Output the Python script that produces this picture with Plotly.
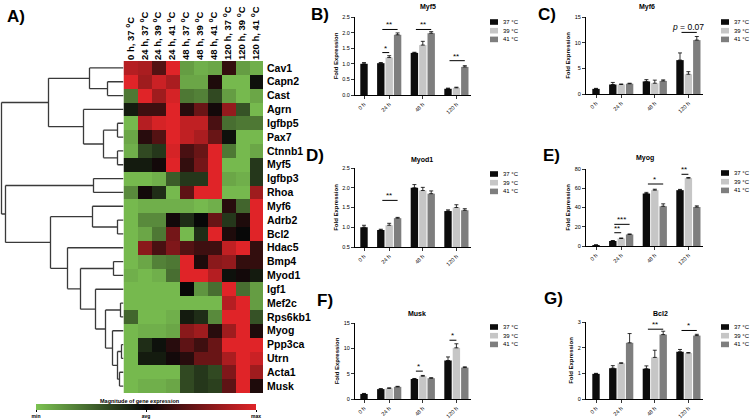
import plotly.graph_objects as go

W, H = 750, 419

# ---------------- heatmap data ----------------
genes = ["Cav1", "Capn2", "Cast", "Agrn", "Igfbp5", "Pax7", "Ctnnb1", "Myf5", "Igfbp3", "Rhoa",
         "Myf6", "Adrb2", "Bcl2", "Hdac5", "Bmp4", "Myod1", "Igf1", "Mef2c", "Rps6kb1", "Myog",
         "Ppp3ca", "Utrn", "Acta1", "Musk"]
conditions = ["0 h, 37 <sup>o</sup>C", "24 h, 37 <sup>o</sup>C", "24 h, 39 <sup>o</sup>C", "24 h, 41 <sup>o</sup>C",
              "48 h, 37 <sup>o</sup>C", "48 h, 39 <sup>o</sup>C", "48 h, 41 <sup>o</sup>C",
              "120 h, 37 <sup>o</sup>C", "120 h, 39 <sup>o</sup>C", "120 h, 41 <sup>o</sup>C"]
expr = [
    [0.8, 0.75, 0.35, 1.0, -0.8, -0.9, -0.85, 0.2, -0.8, -0.9],        # Cav1
    [1.0, 0.7, 0.9, 0.75, -0.85, -0.85, 0.1, -0.95, -0.95, -0.05],     # Capn2
    [-0.6, 1.0, 0.7, 0.95, -0.6, -0.65, -0.35, -0.8, -0.95, -0.85],    # Cast
    [-0.1, 0.25, 0.25, 1.0, 0.15, 0.45, 0.05, 0.65, -0.4, -0.95],      # Agrn
    [-0.95, 0.8, 0.95, 1.0, 0.85, 0.85, 0.3, -0.55, -0.6, -0.6],       # Igfbp5
    [-0.85, 0.15, 0.35, 1.0, 0.85, 0.75, 0.45, -0.05, -0.95, -0.95],   # Pax7
    [-0.9, -0.35, -0.25, 0.95, 0.3, 0.45, 1.0, -0.6, -0.95, -0.85],    # Ctnnb1
    [-0.1, -0.1, 0.05, 1.0, 0.2, 0.5, 1.0, -0.95, -0.95, -0.25],       # Myf5
    [-0.95, -0.95, -0.9, -0.45, -0.25, -0.25, 1.0, -0.85, -0.9, -0.25],  # Igfbp3
    [-0.7, 0.05, -0.2, -0.95, 0.4, 1.0, 1.0, -0.95, -0.95, 0.7],       # Rhoa
    [-0.95, -0.9, -0.9, -0.9, -0.9, -0.95, -0.9, 0.15, -0.5, 1.0],     # Myf6
    [-0.95, -0.7, -0.7, 0.05, -0.2, 0.0, 0.45, -0.25, 0.1, 1.0],       # Adrb2
    [-0.95, -0.85, -0.6, 0.5, -0.95, -0.2, 1.0, 0.1, 0.0, 1.0],        # Bcl2
    [-0.95, 0.6, 0.3, 0.55, 0.35, 0.25, 0.25, 0.85, 1.0, 0.2],         # Hdac5
    [-0.95, -0.85, -0.65, -0.6, 1.0, 0.1, 0.6, 0.65, 0.2, 0.2],        # Bmp4
    [-0.9, -0.95, -0.9, -0.55, 1.0, 1.0, 0.8, -0.05, 0.05, -0.1],      # Myod1
    [-0.95, -0.95, -0.95, -0.95, 0.0, -0.75, -0.55, 1.0, -0.55, -0.8],  # Igf1
    [-0.95, -0.95, -0.95, -0.95, -0.95, -0.95, -0.95, 0.8, 1.0, -0.8],  # Mef2c
    [-0.5, -0.95, -0.95, -0.9, -0.1, -0.2, -0.7, 1.0, 1.0, -0.4],      # Rps6kb1
    [-0.95, -0.9, -0.9, -0.85, 0.6, 0.7, 0.15, 0.7, 1.0, 0.1],         # Myog
    [-0.95, -0.2, -0.05, 0.15, 0.4, 0.25, 0.45, 1.0, 1.0, 1.0],        # Ppp3ca
    [-0.95, -0.1, -0.1, 0.05, 0.15, 0.45, 0.45, 0.75, 1.0, 0.9],       # Utrn
    [-0.95, -0.95, -0.95, -0.95, -0.35, -0.25, -0.35, 0.55, 1.0, 0.7],  # Acta1
    [-0.95, -0.9, -0.9, -0.85, -0.35, -0.25, -0.3, 0.4, 1.0, 0.1],     # Musk
]

# dendrogram merges: (child_a, child_b, height); int child = earlier merge index
merges = [
    ("Capn2", "Cast", 16),     # 0
    ("Cav1", 0, 34),           # 1
    ("Igfbp5", "Pax7", 6),     # 2
    ("Ctnnb1", "Myf5", 6),     # 3
    (2, 3, 20),                # 4
    ("Agrn", 4, 40),           # 5
    (1, 5, 75),                # 6
    ("Igfbp3", "Rhoa", 30),    # 7
    ("Adrb2", "Bcl2", 6),      # 8
    ("Myf6", 8, 31),           # 9
    ("Bmp4", "Myod1", 10),     # 10
    ("Mef2c", "Rps6kb1", 3),   # 11
    ("Ppp3ca", "Utrn", 2),     # 12
    ("Acta1", "Musk", 4),      # 13
    (12, 13, 6),               # 14
    ("Myog", 14, 11),          # 15
    (11, 15, 18),              # 16
    ("Igf1", 16, 28),          # 17
    (10, 17, 43),              # 18
    ("Hdac5", 18, 56),         # 19
    (9, 19, 73),               # 20
    (7, 20, 118),              # 21
    (6, 21, 122),              # 22
]

# ---------------- bar chart data ----------------
time_points = ["0 h", "24 h", "48 h", "120 h"]
temps = ["37 °C", "39 °C", "41 °C"]

myf5_mean = [[1.0, 1.02, 1.35, 0.2], [None, 1.2, 1.6, 0.23], [None, 1.93, 1.98, 0.9]]
myf5_err = [[0.04, 0.02, 0.02, 0.02], [None, 0.06, 0.12, 0.02], [None, 0.06, 0.05, 0.04]]
myf6_mean = [[1.0, 1.85, 2.45, 6.6], [None, 1.85, 2.1, 3.85], [None, 2.0, 2.55, 10.5]]
myf6_err = [[0.1, 0.4, 0.35, 1.4], [None, 0.1, 0.6, 0.5], [None, 0.1, 0.2, 0.7]]
myod1_mean = [[1.0, 0.93, 2.0, 1.41], [None, 1.05, 1.93, 1.5], [None, 1.23, 1.85, 1.43]]
myod1_err = [[0.05, 0.02, 0.08, 0.03], [None, 0.05, 0.08, 0.07], [None, 0.02, 0.07, 0.04]]
myog_mean = [[1.0, 5.2, 54.5, 58.0], [None, 7.8, 58.0, 70.5], [None, 12.0, 41.3, 40.5]]
myog_err = [[0.2, 0.5, 1.2, 0.8], [None, 0.5, 1.0, 0.6], [None, 0.5, 2.5, 1.2]]
musk_mean = [[1.0, 1.95, 3.95, 7.6], [None, 2.1, 4.5, 10.1], [None, 2.4, 4.1, 6.2]]
musk_err = [[0.1, 0.1, 0.1, 0.7], [None, 0.1, 0.15, 0.8], [None, 0.1, 0.1, 0.15]]
bcl2_mean = [[0.98, 1.2, 1.18, 1.84], [None, 1.39, 1.62, 1.79], [None, 2.19, 2.51, 2.47]]
bcl2_err = [[0.02, 0.1, 0.11, 0.09], [None, 0.02, 0.28, 0.02], [None, 0.36, 0.13, 0.05]]

# significance: (time index, series a, series b, y, label)
myf5_sig = [(1, 0, 1, 1.36, "*"), (1, 0, 2, 2.1, "**"), (2, 0, 2, 2.1, "**"), (3, 0, 2, 1.1, "**")]
myf6_sig = [(3, 0, 2, 12.0, "<i>p</i> = 0.07")]
myod1_sig = [(1, 0, 2, 1.68, "**")]
myog_sig = [(1, 0, 1, 13.8, "**"), (1, 0, 2, 22.5, "***"), (2, 0, 2, 64.4, "*"),
            (3, 0, 1, 74.5, "**"), (3, 0, 2, 84.9, "**")]
musk_sig = [(2, 0, 1, 5.5, "*"), (3, 0, 1, 11.6, "*")]
bcl2_sig = [(2, 0, 2, 2.72, "**"), (3, 0, 2, 2.67, "*")]

# ---------------- styling ----------------
FONT = "Liberation Sans"
bar_colors = ["#0c0c0c", "#c6c6c6", "#7e7e7e"]
colorscale = [[0.0, "rgb(124,194,82)"], [0.5, "rgb(8,8,8)"], [1.0, "rgb(224,36,40)"]]


def xd(a, b):
    return [a / W, b / W]


def yd(top, bottom):
    return [1 - bottom / H, 1 - top / H]


fig = go.Figure()
annotations = []
shapes = []

# heatmap
fig.add_trace(go.Heatmap(
    z=expr, x=list(range(len(conditions))), y=list(range(len(genes))),
    colorscale=colorscale, zmin=-1, zmax=1, xaxis="x", yaxis="y",
    showscale=True, xgap=0, ygap=0, hoverinfo="skip",
    colorbar=dict(orientation="h", x=146 / W, xanchor="center", y=0, yanchor="bottom",
                  len=220 / W, lenmode="fraction", thickness=6, thicknessmode="pixels",
                  xpad=0, ypad=0, outlinewidth=0,
                  tickvals=[-1, 0, 1], ticktext=["<b>min</b>", "<b>avg</b>", "<b>max</b>"],
                  ticks="outside", ticklen=2, tickcolor="black",
                  tickfont=dict(family=FONT, size=5, color="black")),
))
annotations.append(dict(x=140 / W, y=1 - 401 / H, xref="paper", yref="paper",
                        text="<b>Magnitude of gene expression</b>", showarrow=False,
                        xanchor="center", yanchor="middle", font=dict(family=FONT, size=5.5, color="black")))

# dendrogram
leaf_y = {g: i for i, g in enumerate(genes)}
node_pos = []
dx, dy = [], []
for a, b, h in merges:
    pts = []
    for c in (a, b):
        if isinstance(c, int):
            cy, ch = node_pos[c]
        else:
            cy, ch = leaf_y[c], 0
        pts.append((cy, ch))
        dx += [ch, h, None]
        dy += [cy, cy, None]
    dx += [h, h, None]
    dy += [pts[0][0], pts[1][0], None]
    node_pos.append(((pts[0][0] + pts[1][0]) / 2, h))
fig.add_trace(go.Scatter(x=dx, y=dy, mode="lines", xaxis="x2", yaxis="y",
                         line=dict(color="#3a3a3a", width=1.3), hoverinfo="skip", showlegend=False))

layout_axes = dict(
    xaxis=dict(domain=xd(123.5, 263), range=[-0.5, len(conditions) - 0.5], side="top", anchor="y",
               tickvals=list(range(len(conditions))), ticktext=["<b>%s</b>" % c for c in conditions],
               tickangle=-90, tickfont=dict(family=FONT, size=9.5, color="black"),
               showgrid=False, zeroline=False, showline=False, ticks=""),
    yaxis=dict(domain=yd(61, 393), range=[len(genes) - 0.5, -0.5], side="right", anchor="x",
               tickvals=list(range(len(genes))), ticktext=["<b>%s</b>" % g for g in genes],
               tickfont=dict(family=FONT, size=10.5, color="black"),
               showgrid=False, zeroline=False, showline=False, ticks="", ticklabelstandoff=3),
    xaxis2=dict(domain=xd(0, 123.5), range=[123.5, 0], anchor="y", visible=False),
)

# bar panels
panels = [
    ("Myf5", myf5_mean, myf5_err, myf5_sig, [0, 2.5], [0, 0.5, 1.0, 1.5, 2.0, 2.5], ".1f",
     355, 471, 17, 95, 364, "B)", (320, 15), (428, 7), (490, 22)),
    ("Myf6", myf6_mean, myf6_err, myf6_sig, [0, 15], [0, 5, 10, 15], "d",
     586, 703, 17, 94, 596, "C)", (547, 15), (647, 7), (721, 22)),
    ("Myod1", myod1_mean, myod1_err, myod1_sig, [0.5, 2.5], [0.5, 1.0, 1.5, 2.0, 2.5], ".1f",
     355, 471, 168, 247, 364, "D)", (315, 156), (422, 160), (490, 174)),
    ("Myog", myog_mean, myog_err, myog_sig, [0, 80], [0, 20, 40, 60, 80], "d",
     586, 703, 169, 246, 596, "E)", (551, 155), (645, 158), (721, 173)),
    ("Musk", musk_mean, musk_err, musk_sig, [0, 15], [0, 5, 10, 15], "d",
     355, 471, 323, 399, 364, "F)", (325, 300), (417, 313), (490, 327)),
    ("Bcl2", bcl2_mean, bcl2_err, bcl2_sig, [0, 3], [0, 1, 2, 3], "d",
     586, 703, 322, 399, 596, "G)", (553, 298), (660, 313), (721, 327)),
]

SCALE = 8.4  # px per bar slot
group_sizes = [1, 3, 3, 3]
group_start = []
s = -0.5
for n in group_sizes:
    group_start.append(s)
    s += n + 1
group_center = [st + n / 2 for st, n in zip(group_start, group_sizes)]


def bar_x(g, j):
    return group_start[g] + j + 0.5


for k, (name, means, errs, sig, yr, yt, fmt, left, right, top, bottom, c0, letter, lpos, tpos, legpos) in enumerate(panels):
    ax_n = k + 3
    xr, yr_ = "x%d" % ax_n, "y%d" % ax_n
    for j in range(3):
        xs, ys, es = [], [], []
        for g in range(4):
            if means[j][g] is None:
                continue
            xs.append(bar_x(g, j))
            ys.append(means[j][g])
            es.append(errs[j][g])
        fig.add_trace(go.Bar(x=xs, y=ys, width=0.88, xaxis=xr, yaxis=yr_, name=temps[j],
                             marker=dict(color=bar_colors[j], line=dict(width=0)),
                             error_y=dict(type="data", array=es, arrayminus=[0] * len(es), symmetric=False,
                                          color="black", thickness=0.8, width=2),
                             showlegend=False, hoverinfo="skip"))
    ticktext = ["%g" % v if fmt == "d" else ("%.1f" % v) for v in yt]
    layout_axes["xaxis%d" % ax_n] = dict(
        domain=xd(left, right), range=[(left - c0) / SCALE, (right - c0) / SCALE], anchor=yr_,
        tickvals=group_center, ticktext=time_points, tickangle=-45,
        tickfont=dict(family=FONT, size=5.5, color="black"),
        showline=True, linecolor="black", linewidth=1, ticks="outside", ticklen=3, tickcolor="black",
        tickwidth=0.8, showgrid=False, zeroline=False, fixedrange=True)
    layout_axes["yaxis%d" % ax_n] = dict(
        domain=yd(top, bottom), range=yr, anchor=xr, tickvals=yt, ticktext=ticktext,
        tickfont=dict(family=FONT, size=5.5, color="black"),
        showline=True, linecolor="black", linewidth=1, ticks="outside", ticklen=3, tickcolor="black",
        tickwidth=0.8, showgrid=False, zeroline=False, fixedrange=True,
        title=dict(text="<b>Fold Expression</b>", font=dict(family=FONT, size=6, color="black"), standoff=3))
    for g, a, b, yv, lab in sig:
        xa, xb = bar_x(g, a), bar_x(g, b)
        annotations.append(dict(x=xb, y=yv, ax=xa, ay=yv, xref=xr, yref=yr_, axref=xr, ayref=yr_,
                                showarrow=True, arrowhead=0, arrowwidth=1, arrowcolor="black",
                                text="", standoff=0, startstandoff=0))
        annotations.append(dict(x=(xa + xb) / 2, y=yv, xref=xr, yref=yr_, text=lab, showarrow=False,
                                yanchor="bottom", yshift=-2,
                                font=dict(family=FONT, size=8 if "p" not in lab else 8.5, color="black")))
    annotations.append(dict(x=lpos[0] / W, y=1 - lpos[1] / H, xref="paper", yref="paper", text="<b>%s</b>" % letter,
                            showarrow=False, xanchor="center", yanchor="middle",
                            font=dict(family=FONT, size=17, color="black")))
    annotations.append(dict(x=tpos[0] / W, y=1 - tpos[1] / H, xref="paper", yref="paper", text="<b>%s</b>" % name,
                            showarrow=False, xanchor="center", yanchor="middle",
                            font=dict(family=FONT, size=7, color="black")))
    for j in range(3):
        yc = legpos[1] + j * 8.7
        shapes.append(dict(type="rect", xref="paper", yref="paper",
                           x0=legpos[0] / W, x1=(legpos[0] + 8) / W,
                           y0=1 - (yc + 2.8) / H, y1=1 - (yc - 2.8) / H,
                           fillcolor=bar_colors[j], line=dict(width=0)))
        annotations.append(dict(x=(legpos[0] + 11) / W, y=1 - yc / H, xref="paper", yref="paper",
                                text=temps[j], showarrow=False, xanchor="left", yanchor="middle",
                                font=dict(family=FONT, size=6, color="black")))

annotations.append(dict(x=16 / W, y=1 - 16.5 / H, xref="paper", yref="paper", text="<b>A)</b>",
                        showarrow=False, xanchor="center", yanchor="middle",
                        font=dict(family=FONT, size=17, color="black")))

fig.update_layout(
    width=W, height=H, margin=dict(l=0, r=0, t=0, b=0, autoexpand=False),
    paper_bgcolor="white", plot_bgcolor="white", barmode="overlay",
    showlegend=False, annotations=annotations, shapes=shapes,
    font=dict(family=FONT, color="black"),
    **layout_axes,
)

fig.write_html("out.html", config={"displayModeBar": False, "staticPlot": True},
               post_script="document.body.style.margin='0';document.body.style.overflow='hidden';")
